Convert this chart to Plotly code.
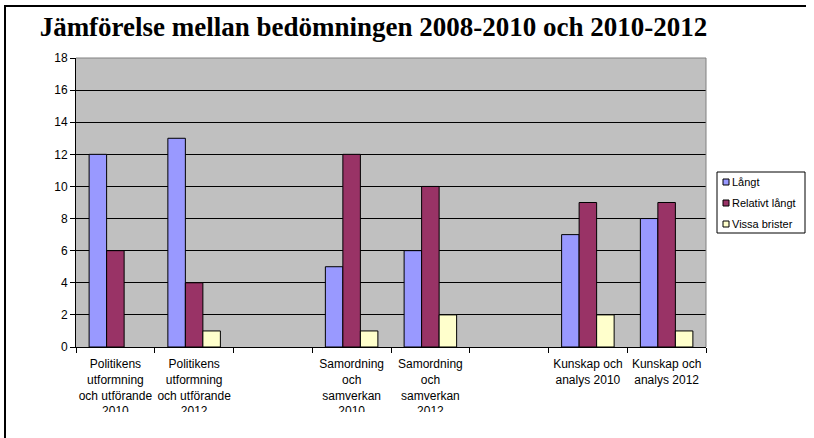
import plotly.graph_objects as go

categories = [
    "Politikens<br>utformning<br>och utförande<br>2010",
    "Politikens<br>utformning<br>och utförande<br>2012",
    " ",
    "Samordning<br>och<br>samverkan<br>2010",
    "Samordning<br>och<br>samverkan<br>2012",
    "  ",
    "Kunskap och<br>analys 2010",
    "Kunskap och<br>analys 2012",
]
langt = [12, 13, None, 5, 6, None, 7, 8]
relativt_langt = [6, 4, None, 12, 10, None, 9, 9]
vissa_brister = [0, 1, None, 1, 2, None, 2, 1]

series_names = ["Långt", "Relativt långt", "Vissa brister"]
series_values = [langt, relativt_langt, vissa_brister]
series_colors = ["#9999FF", "#993366", "#FFFFCC"]

W, H = 814, 438
L, R, T, B = 76, 108, 58, 91
pw, ph = W - L - R, H - T - B


def px(x):
    return (x - L) / pw


def py(y):
    return (H - B - y) / ph


fig = go.Figure()
for name, vals, col in zip(series_names, series_values, series_colors):
    fig.add_trace(go.Bar(
        x=categories, y=vals, name=name, showlegend=False,
        marker=dict(color=col, line=dict(color="#000000",
                                         width=[0 if not v else 1 for v in vals])),
    ))

font = "Liberation Sans, Arial, sans-serif"

shapes = [
    # plot area border (top/right gray)
    dict(type="line", xref="paper", yref="paper", x0=0, x1=1, y0=1, y1=1,
         line=dict(color="#808080", width=1)),
    dict(type="line", xref="paper", yref="paper", x0=1, x1=1, y0=0, y1=1,
         line=dict(color="#808080", width=1)),
    # clip bottom of tick labels
    dict(type="rect", xref="paper", yref="paper", x0=px(7), x1=px(W), y0=py(H),
         y1=py(412), fillcolor="white", line=dict(width=0), layer="above"),
    # outer frame
    dict(type="line", xref="paper", yref="paper", x0=px(4), x1=px(806), y0=py(6), y1=py(6),
         line=dict(color="#000000", width=2)),
    dict(type="line", xref="paper", yref="paper", x0=px(5), x1=px(5), y0=py(6), y1=py(H),
         line=dict(color="#000000", width=2)),
    # legend box
    dict(type="rect", xref="paper", yref="paper", x0=px(717), x1=px(805), y0=py(233),
         y1=py(172), fillcolor="white", line=dict(color="#000000", width=1), layer="above"),
]
annotations = []
row_y = [182, 203, 224]
for name, col, ry in zip(series_names, series_colors, row_y):
    shapes.append(dict(type="rect", xref="paper", yref="paper",
                       x0=px(723), x1=px(729), y0=py(ry + 3), y1=py(ry - 3),
                       fillcolor=col, line=dict(color="#000000", width=1), layer="above"))
    annotations.append(dict(xref="paper", yref="paper", x=px(730), y=py(ry),
                            xanchor="left", yanchor="middle", showarrow=False,
                            text=name, font=dict(family=font, size=11, color="#000000")))

fig.update_layout(
    width=W, height=H,
    margin=dict(l=L, r=R, t=T, b=B, autoexpand=False),
    paper_bgcolor="white",
    plot_bgcolor="#C0C0C0",
    barmode="group",
    bargap=0.333,
    bargroupgap=0,
    showlegend=False,
    font=dict(family=font, size=12, color="#000000"),
    title=dict(
        text="<b>Jämförelse mellan bedömningen 2008-2010 och 2010-2012</b>",
        font=dict(family="Liberation Serif, Times New Roman, serif", size=27, color="#000000"),
        x=373.5 / W, xanchor="center", xref="container",
        y=1 - 27 / H, yanchor="middle", yref="container",
    ),
    xaxis=dict(
        type="category",
        tickson="boundaries",
        ticks="outside", ticklen=5, tickcolor="#000000",
        showline=True, linecolor="#000000", linewidth=1,
        showgrid=False,
        tickfont=dict(family=font, size=12, color="#000000"),
        tickangle=0,
        ticklabelstandoff=6,
        fixedrange=True,
    ),
    yaxis=dict(
        range=[0, 18], dtick=2, tick0=0,
        ticks="outside", ticklen=5, tickcolor="#000000",
        showline=True, linecolor="#000000", linewidth=1,
        showgrid=True, gridcolor="#000000", gridwidth=1,
        zeroline=False,
        tickfont=dict(family=font, size=12, color="#000000"),
        fixedrange=True,
    ),
    shapes=shapes,
    annotations=annotations,
)

fig.write_html("out.html", config={"displayModeBar": False},
               post_script="document.body.style.margin='0px';")
